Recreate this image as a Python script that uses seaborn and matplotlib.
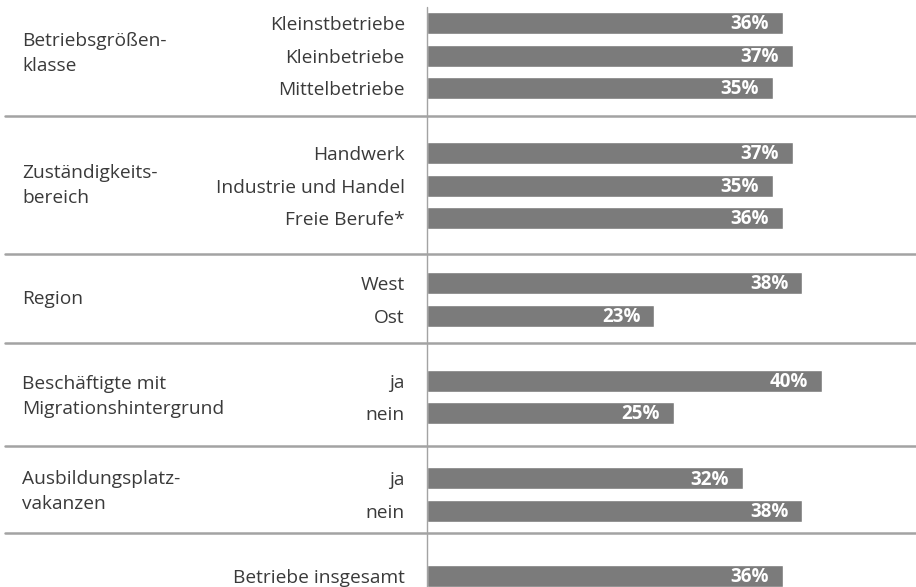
import numpy as np
import pandas as pd
import matplotlib.pyplot as plt
import seaborn as sns

# data
categories = ["Kleinstbetriebe", "Kleinbetriebe", "Mittelbetriebe",
              "Handwerk", "Industrie und Handel", "Freie Berufe*",
              "West", "Ost",
              "ja", "nein",
              "ja ", "nein ",
              "Betriebe insgesamt"]
values = [36, 37, 35, 37, 35, 36, 38, 23, 40, 25, 32, 38, 36]
positions = [0, 1, 2, 4, 5, 6, 8, 9, 11, 12, 14, 15, 17]
groups = ["Betriebsgrößen-\nklasse", "Zuständigkeits-\nbereich", "Region",
          "Beschäftigte mit\nMigrationshintergrund", "Ausbildungsplatz-\nvakanzen"]
group_centers = [0.95, 5.0, 8.5, 11.5, 14.4]
separators = [2.85, 7.1, 9.85, 13.0, 15.7]

df = pd.DataFrame({"cat": categories, "value": values, "pos": positions})

sns.set_style("white")
plt.rcParams["font.family"] = ["Open Sans", "DejaVu Sans"]

bar_color = "#7b7b7b"
line_color = "#a3a3a3"
text_color = "#3a3a3a"
label_size = 13.8

fig = plt.figure(figsize=(9.16, 5.87), dpi=100)
ax = fig.add_axes([427 / 916, 0, 489 / 916, 1])

sns.barplot(data=df, x="value", y="pos", orient="h", native_scale=True,
            color=bar_color, saturation=1, width=0.68, ax=ax)

ax.set_xlim(0, 49.5)
ax.set_ylim(17.35, -0.71)
for s in ax.spines.values():
    s.set_visible(False)
ax.set_xticks([])
ax.set_xlabel("")
ax.set_ylabel("")
ax.set_yticks(positions)
ax.set_yticklabels([c.strip() for c in categories], fontsize=label_size, color=text_color)
ax.tick_params(axis="y", left=False, length=0, pad=16)

# vertical axis line
ax.plot([0, 0], [-0.5, 17.35], color=line_color, lw=1, clip_on=False)

# group separators across full width
for s in separators:
    ax.axhline(s, xmin=-(427 - 5) / 489, xmax=1, color=line_color, lw=1.8, clip_on=False)

# value labels inside bar ends
for v, p in zip(values, positions):
    ax.annotate(f"{v}%", (v, p), xytext=(-10, -1), textcoords="offset points",
                ha="right", va="center", color="white", fontsize=13.5, fontweight="bold")

# group labels on the left
for g, c in zip(groups, group_centers):
    ax.text(22 / 916, ax.transData.transform((0, c))[1] / fig.dpi / 5.87, g,
            transform=fig.transFigure, ha="left", va="center",
            fontsize=label_size, color=text_color, linespacing=1.5)

fig.savefig("out.png", dpi=100)
